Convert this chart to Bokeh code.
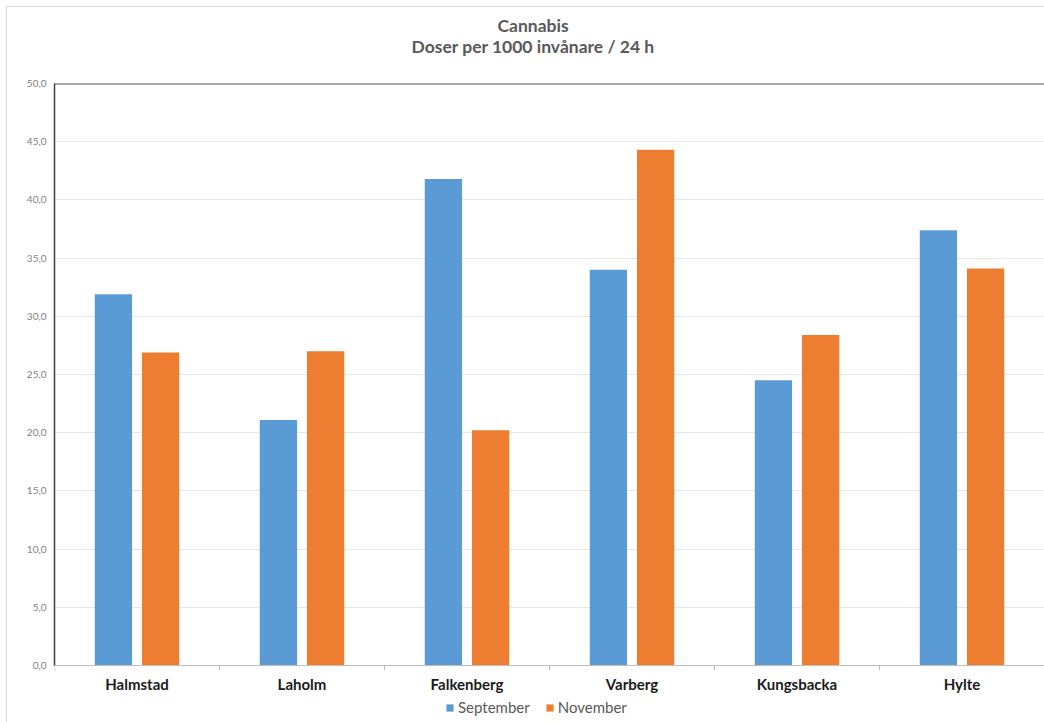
from bokeh.plotting import figure
from bokeh.models import (ColumnDataSource, FixedTicker, Legend, LegendItem,
                          Title, Span)
from bokeh.transform import dodge
from bokeh.embed import file_html
from bokeh.resources import INLINE

# ---- data ----
municipalities = ["Halmstad", "Laholm", "Falkenberg", "Varberg", "Kungsbacka", "Hylte"]
september = [31.9, 21.1, 41.8, 34.0, 24.5, 37.4]
november = [26.9, 27.0, 20.2, 44.3, 28.4, 34.1]
series_names = ["September", "November"]
y_ticks = [0, 5, 10, 15, 20, 25, 30, 35, 40, 45, 50]
y_tick_labels = ["0,0", "5,0", "10,0", "15,0", "20,0", "25,0",
                 "30,0", "35,0", "40,0", "45,0", "50,0"]
title_lines = ["Cannabis", "Doser per 1000 invånare / 24 h"]

BLUE = "#5B9BD5"
ORANGE = "#ED7D31"
FONT = "Lato"

n = len(municipalities)
positions = [i + 0.5 for i in range(n)]
boundaries = list(range(n + 1))
source = ColumnDataSource(dict(pos=positions, sep=september, nov=november))

# frame reaches the page bottom so the category labels and legend sit inside it
y_min, y_max = -4.897, 50
p = figure(frame_width=990, frame_height=639, x_range=(0, n), y_range=(y_min, y_max),
           output_backend="svg", toolbar_location=None,
           min_border_left=54, min_border_right=0,
           min_border_top=83, min_border_bottom=0)
p.background_fill_color = "white"
p.border_fill_color = None
p.outline_line_color = None

bar_w = 0.226
r1 = p.vbar(x=dodge("pos", -0.143), top="sep", width=bar_w, source=source,
            fill_color=BLUE, line_color=None)
r2 = p.vbar(x=dodge("pos", 0.143), top="nov", width=bar_w, source=source,
            fill_color=ORANGE, line_color=None)

# y axis
yax = p.yaxis[0]
yax.ticker = FixedTicker(ticks=y_ticks)
yax.bounds = (0, 50)
yax.major_label_overrides = {t: l for t, l in zip(y_ticks, y_tick_labels)}
yax.major_label_text_font = FONT
yax.major_label_text_font_size = "10px"
yax.major_label_text_color = "#7f7f7f"
yax.major_tick_line_color = None
yax.major_tick_out = 0
yax.major_tick_in = 0
yax.minor_tick_line_color = None
yax.minor_tick_out = 0
yax.major_label_standoff = 8
yax.axis_line_color = "#404040"
yax.axis_line_width = 1.5

# x axis, drawn at value 0
xax = p.xaxis[0]
xax.fixed_location = 0
xax.ticker = FixedTicker(ticks=positions, minor_ticks=boundaries)
xax.major_label_overrides = {pos: name for pos, name in zip(positions, municipalities)}
xax.major_label_text_font = FONT
xax.major_label_text_font_size = "15px"
xax.major_label_text_font_style = "bold"
xax.major_label_text_color = "#1a1a1a"
xax.major_tick_line_color = None
xax.major_tick_out = 5
xax.major_tick_in = 0
xax.minor_tick_line_color = "#bfbfbf"
xax.minor_tick_out = 5
xax.minor_tick_in = 0
xax.axis_line_color = "#bfbfbf"
xax.axis_line_width = 1
xax.major_label_standoff = 5

p.xgrid.grid_line_color = None
p.ygrid.ticker = FixedTicker(ticks=y_ticks)
p.ygrid.grid_line_color = "#e6e6e6"
p.ygrid.grid_line_width = 1

p.add_layout(Span(location=50, dimension="width", line_color="#595959", line_width=2))

# titles (later added = higher up); first one is an empty spacer
p.add_layout(Title(text=" ", align="left", text_font=FONT,
                   text_font_size="17.5px", standoff=4), "above")
p.add_layout(Title(text=title_lines[1], align="left", text_font=FONT,
                   text_font_size="17.5px", text_font_style="bold",
                   text_color="#595959", offset=357, standoff=0), "above")
p.add_layout(Title(text=title_lines[0], align="left", text_font=FONT,
                   text_font_size="17.5px", text_font_style="bold",
                   text_color="#595959", offset=443, standoff=-4), "above")

legend = Legend(items=[LegendItem(label=series_names[0], renderers=[r1]),
                       LegendItem(label=series_names[1], renderers=[r2])],
                orientation="horizontal", location=(391, 6),
                label_text_font=FONT, label_text_font_size="15px",
                label_text_color="#595959", glyph_width=9, glyph_height=9,
                label_standoff=4, spacing=15, padding=0, margin=0,
                border_line_color=None, background_fill_alpha=0)
p.add_layout(legend)

p.styles = {
    "background-image": "linear-gradient(#d9d9d9,#d9d9d9), linear-gradient(#d9d9d9,#d9d9d9)",
    "background-size": "1px 100%, 100% 1px",
    "background-position": "6px 6px, 6px 6px",
    "background-repeat": "no-repeat",
}

open("out.html", "w").write(file_html(p, INLINE))
